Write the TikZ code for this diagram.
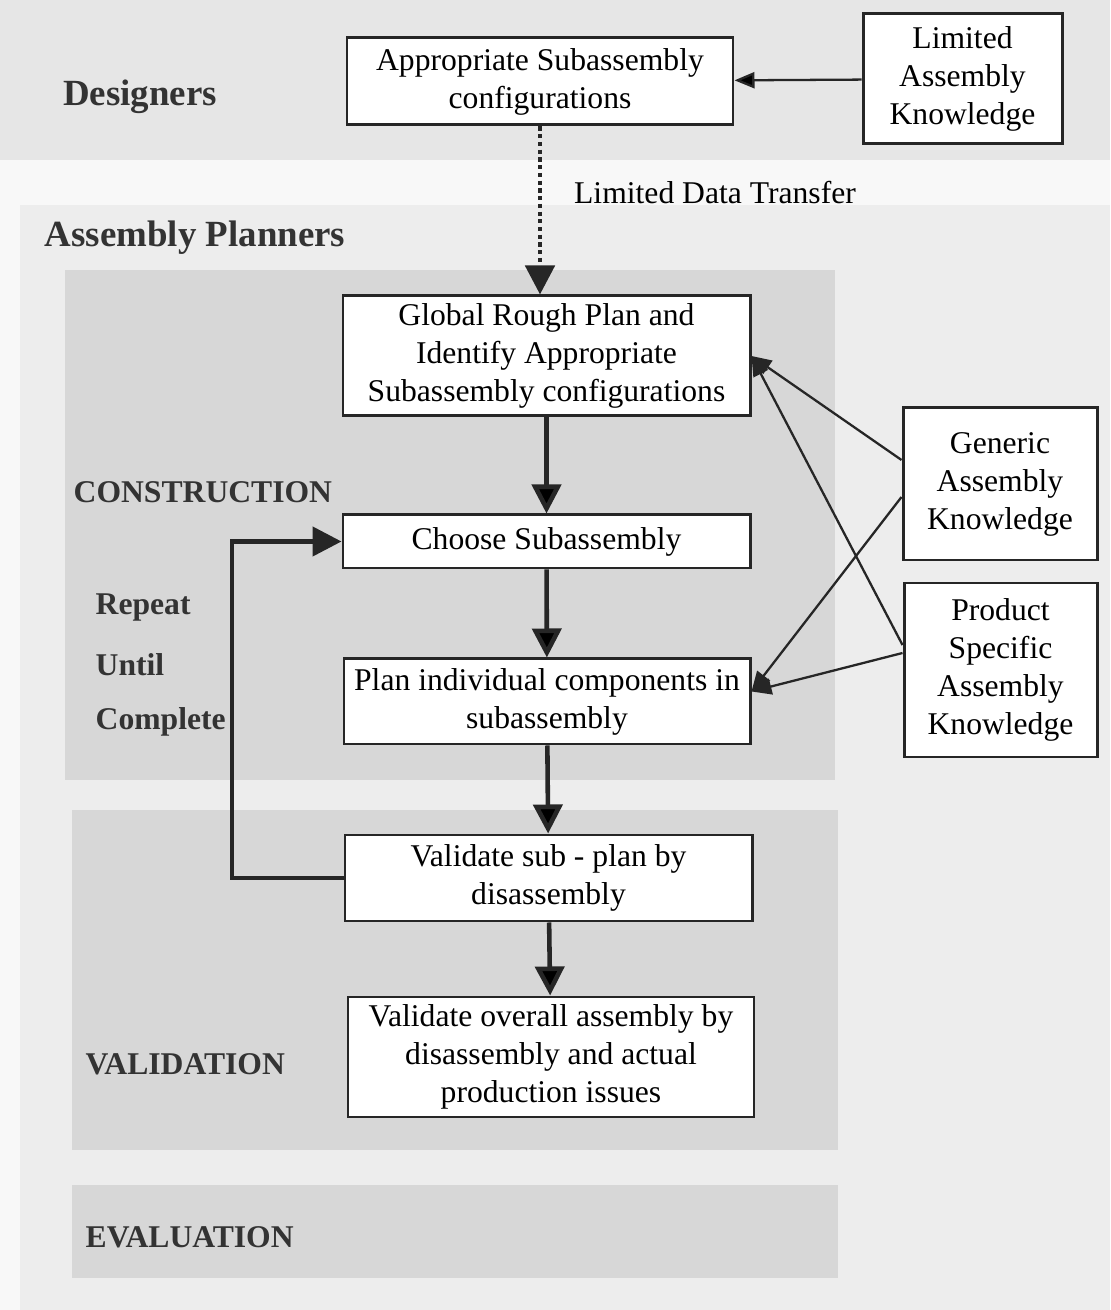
\documentclass[tikz,border=0pt]{standalone}
\usepackage{fontspec}
\setmainfont{Liberation Serif}
\usetikzlibrary{arrows.meta}

\definecolor{pagewhite}{HTML}{F8F8F8}
\definecolor{topgray}{HTML}{E6E6E6}
\definecolor{pagegray}{HTML}{EDEDED}
\definecolor{stagegray}{HTML}{D7D7D7}

\begin{document}
\begin{tikzpicture}[>={Triangle[length=2.9mm,width=2.9mm]},line join=miter,
  box/.style={draw=black!85,line width=0.85pt,fill=white,align=center,inner sep=0pt,
    font=\fontsize{9}{10.8}\selectfont},
  role/.style={inner sep=0pt,font=\fontsize{10.5}{12}\selectfont\bfseries,text=black!80},
  phase/.style={anchor=west,inner sep=0pt,font=\fontsize{9}{11}\selectfont\bfseries,text=black!80},
  flow/.style={draw=black!85,line width=1.3pt,->},
  feed/.style={draw=black!85,line width=0.65pt,-{Triangle[length=2mm,width=1.6mm]}}]
%%
  \useasboundingbox (0,0) rectangle (11.1,13.1);
  \fill [pagewhite] (0,0) rectangle (11.1,13.1);
  \fill [topgray] (0,11.5) rectangle (11.1,13.1);
  \fill [pagegray] (0.2,0) rectangle (11.1,11.05);
  \fill [stagegray] (0.65,5.30) rectangle (8.35,10.40);
  \fill [stagegray] (0.72,1.60) rectangle (8.38,5.00);
  \fill [stagegray] (0.72,0.32) rectangle (8.38,1.25);

  \node (node_designers) at (1.40,12.13) [role] {Designers};
  \node (node_planners) at (1.95,10.72) [role] {Assembly Planners};
  \node (node_construction) at (0.73,8.18) [phase] {CONSTRUCTION};
  \node (node_repeat) at (0.95,7.02) [phase] {Repeat};
  \node (node_until) at (0.95,6.45) [phase] {Until};
  \node (node_complete) at (0.95,5.88) [phase] {Complete};
  \node (node_validation) at (0.85,2.46) [phase] {VALIDATION};
  \node (node_evaluation) at (0.85,0.73) [phase] {EVALUATION};

  \node (node_appr) at (5.40,12.285) [box,minimum width=3.86cm,minimum height=0.87cm] {Appropriate Subassembly\\configurations};
  \node (node_limited) at (9.625,12.31) [box,minimum width=1.99cm,minimum height=1.30cm] {Limited\\Assembly\\Knowledge};

  \node (node_global) at (5.465,9.54) [box,minimum width=4.07cm,minimum height=1.20cm] {Global Rough Plan and\\Identify Appropriate\\Subassembly configurations};
  \node (node_choose) at (5.465,7.685) [box,minimum width=4.07cm,minimum height=0.53cm] {Choose Subassembly};
  \node (node_plan) at (5.47,6.085) [box,minimum width=4.06cm,minimum height=0.85cm] {Plan individual components in\\subassembly};
  \node (node_vsub) at (5.485,4.32) [box,minimum width=4.07cm,minimum height=0.86cm] {Validate sub - plan by\\disassembly};
  \node (node_vall) at (5.51,2.53) [box,minimum width=4.06cm,minimum height=1.20cm] {Validate overall assembly by\\disassembly and actual\\production issues};

  \node (node_generic) at (10.0,8.26) [box,minimum width=1.94cm,minimum height=1.52cm] {Generic\\Assembly\\Knowledge};
  \node (node_product) at (10.005,6.40) [box,minimum width=1.93cm,minimum height=1.74cm] {Product\\Specific\\Assembly\\Knowledge};

  \node (node_transfer) at (7.15,11.17) [font=\fontsize{9}{11}\selectfont] {Limited Data Transfer};

  \draw [feed] (node_limited) edge (node_appr);
  \draw [flow,line width=1.4pt,dash pattern=on 1.2pt off 1pt] (node_appr.south) -- (node_appr.south |- node_global.north);
  \draw [flow] (node_global) edge (node_choose);
  \draw [flow] (node_choose) edge (node_plan);
  \draw [flow] (node_plan) edge (node_vsub);
  \draw [flow] (node_vsub) edge (node_vall);
%
  \coordinate (loop_turn) at (2.32,4.32);
  \draw [flow] (node_vsub.west) -- (loop_turn) |- (node_choose.west);
%
  \draw [feed] ([yshift=0.24cm]node_generic.west) -- (node_global.east);
  \draw [feed] ([yshift=0.25cm]node_product.west) -- (node_global.east);
  \draw [feed] ([yshift=-0.13cm]node_generic.west) -- ([yshift=0.1cm]node_plan.east);
  \draw [feed] ([yshift=0.17cm]node_product.west) -- ([yshift=0.1cm]node_plan.east);
%
\end{tikzpicture}
\end{document}
